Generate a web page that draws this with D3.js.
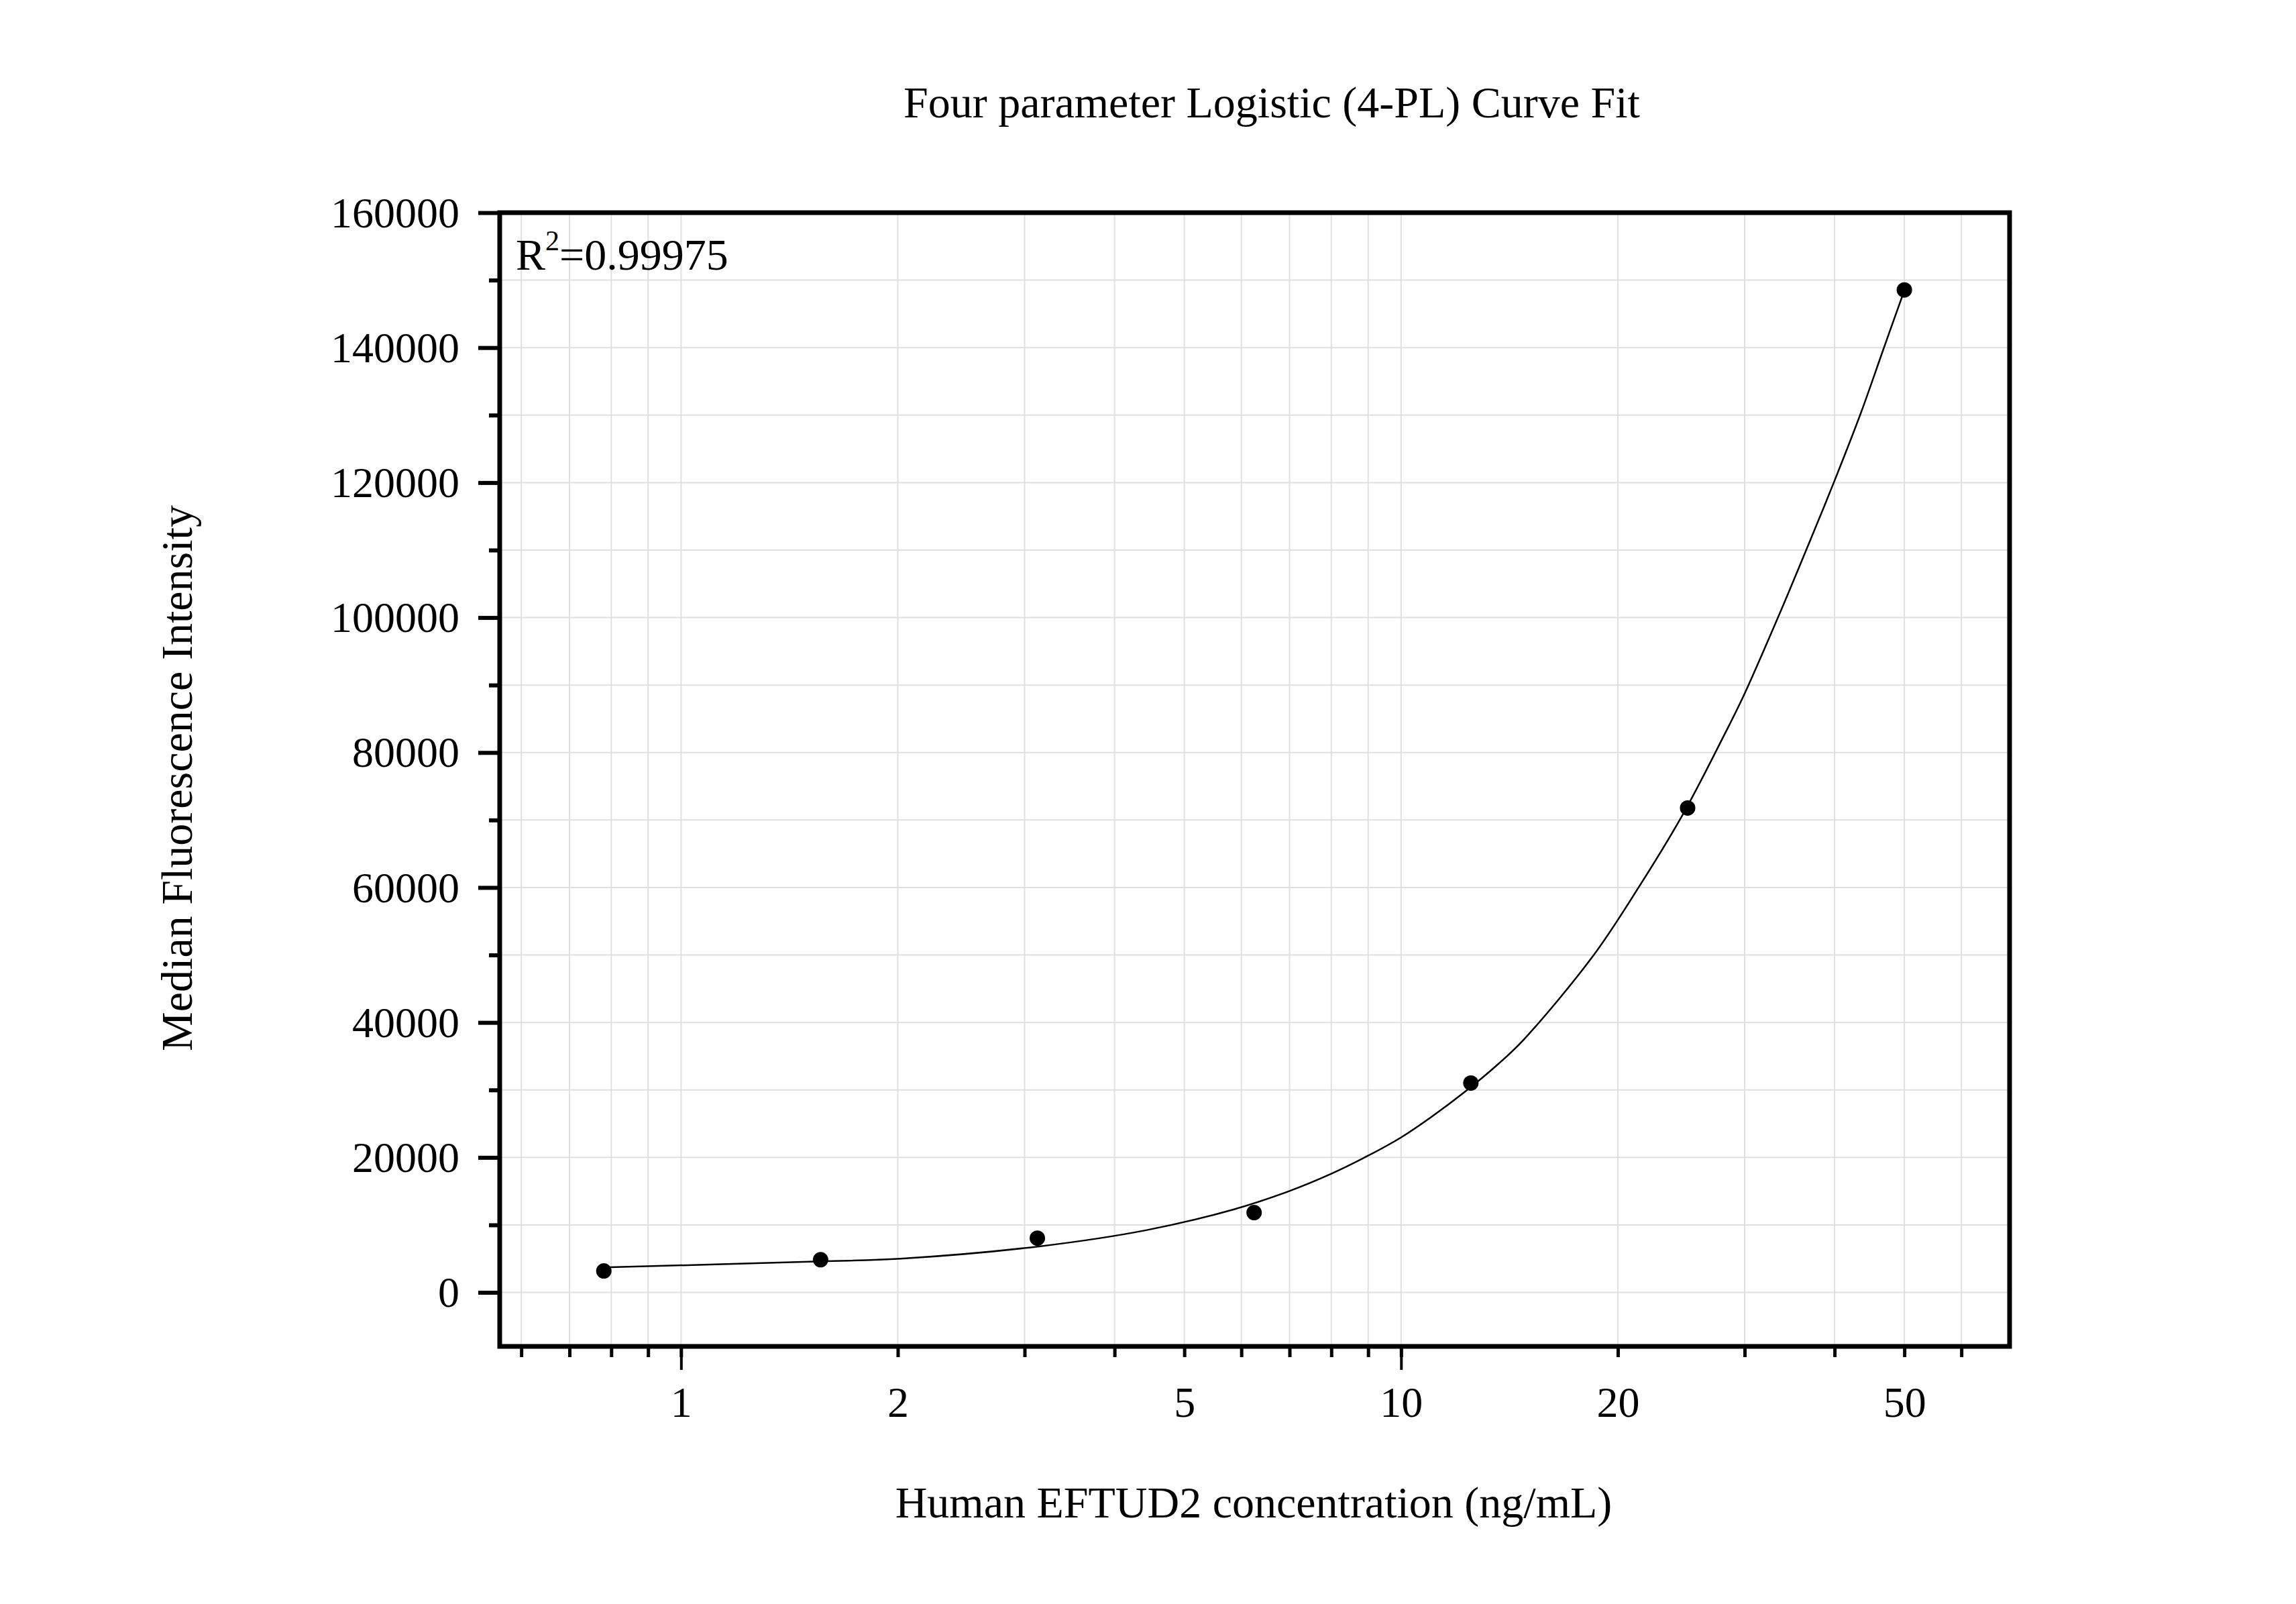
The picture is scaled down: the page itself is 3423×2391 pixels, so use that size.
<!DOCTYPE html>
<html>
<head>
<meta charset="utf-8">
<script src="https://cdn.jsdelivr.net/npm/d3@7"></script>
<style>
    body { margin: 0; background: #fff; }
    text { font-family: "Liberation Serif", "Times New Roman", serif; fill: #000; }
</style>
</head>
<body>
<div id="chart"></div>
<script>
// measured points (concentration ng/mL, MFI)
var concentrations = [0.78125, 1.5625, 3.125, 6.25, 12.5, 25, 50];
var mfiValues = [3180, 4840, 8040, 11820, 31030, 71780, 148550];

// fitted 4-PL curve
var curveX = [0.78125, 1.5625, 2.018, 3.144, 4.434, 5.86, 7.0, 8.0, 9.0, 10.0, 11.0, 12.33, 13.63,
    14.8, 18.43, 21.37, 24.62, 27.99, 29.9, 33.55, 37.09, 40.0, 43.5, 46.63, 49.62, 50];
var curveY = [3700, 4600, 5000, 6820, 9235, 12310, 15030, 17580, 20260, 22970, 25950, 29920, 33800,
    37450, 49700, 60000, 70820, 82220, 88400, 100570, 111720, 120300, 130300, 139400, 147500, 148400];

var xMinorTicks = [0.6, 0.7, 0.8, 0.9, 1, 2, 3, 4, 5, 6, 7, 8, 9, 10, 20, 30, 40, 50, 60];
var xDecadeTicks = [1, 10];
var xLabelTicks = [1, 2, 5, 10, 20, 50];
var yMajorTicks = [0, 20000, 40000, 60000, 80000, 100000, 120000, 140000, 160000];
var yMinorTicks = [10000, 30000, 50000, 70000, 90000, 110000, 130000, 150000];
var yGridTicks = [0, 10000, 20000, 30000, 40000, 50000, 60000, 70000, 80000, 90000, 100000,
    110000, 120000, 130000, 140000, 150000];

var chartTitle = "Four parameter Logistic (4-PL) Curve Fit";
var xTitle = "Human EFTUD2 concentration (ng/mL)";
var yTitle = "Median Fluorescence Intensity";

var width = 3423, height = 2391;
var plotLeft = 745, plotRight = 2996, plotTop = 317, plotBottom = 2007;

var svg = d3.select("#chart").append("svg")
    .attr("width", width)
    .attr("height", height);

svg.append("rect").attr("width", width).attr("height", height).attr("fill", "#fff");

var xScale = d3.scaleLog().domain([0.56, 70]).range([plotLeft, plotRight]);
var yScale = d3.scaleLinear().domain([-8000, 160000]).range([plotBottom, plotTop]);

// grid lines
svg.append("g").selectAll("line").data(xMinorTicks).enter()
    .append("line")
    .attr("x1", function (d) { return xScale(d); })
    .attr("x2", function (d) { return xScale(d); })
    .attr("y1", plotTop)
    .attr("y2", plotBottom)
    .attr("stroke", "#e0e0e0")
    .attr("stroke-width", 2);

svg.append("g").selectAll("line").data(yGridTicks).enter()
    .append("line")
    .attr("x1", plotLeft)
    .attr("x2", plotRight)
    .attr("y1", function (d) { return yScale(d); })
    .attr("y2", function (d) { return yScale(d); })
    .attr("stroke", "#e0e0e0")
    .attr("stroke-width", 2);

// axes ticks
function styleTicks(g, w) {
    g.select(".domain").remove();
    g.selectAll(".tick line").attr("stroke", "#000").attr("stroke-width", w);
}

svg.append("g")
    .attr("transform", "translate(" + plotLeft + ",0)")
    .call(d3.axisLeft(yScale).tickValues(yMinorTicks).tickSize(16).tickFormat(""))
    .call(styleTicks, 6);

var yAxisMajor = svg.append("g")
    .attr("transform", "translate(" + plotLeft + ",0)")
    .call(d3.axisLeft(yScale).tickValues(yMajorTicks).tickSize(32).tickPadding(28).tickFormat(d3.format("d")))
    .call(styleTicks, 6);
yAxisMajor.selectAll("text")
    .attr("font-family", "Liberation Serif")
    .attr("font-size", 64)
    .attr("dy", "0.33em");

svg.append("g")
    .attr("transform", "translate(0," + plotBottom + ")")
    .call(d3.axisBottom(xScale).tickValues(xMinorTicks).tickSize(16).tickFormat(""))
    .call(styleTicks, 5);

svg.append("g")
    .attr("transform", "translate(0," + plotBottom + ")")
    .call(d3.axisBottom(xScale).tickValues(xDecadeTicks).tickSize(35).tickFormat(""))
    .call(styleTicks, 4);

var xAxisLabels = svg.append("g")
    .attr("transform", "translate(0," + plotBottom + ")")
    .call(d3.axisBottom(xScale).tickValues(xLabelTicks).tickSize(0).tickFormat(d3.format("d")))
    .call(styleTicks, 0);
xAxisLabels.selectAll("text")
    .attr("font-family", "Liberation Serif")
    .attr("font-size", 64)
    .attr("y", 105)
    .attr("dy", 0);

// frame
svg.append("rect")
    .attr("x", plotLeft)
    .attr("y", plotTop)
    .attr("width", plotRight - plotLeft)
    .attr("height", plotBottom - plotTop)
    .attr("fill", "none")
    .attr("stroke", "#000")
    .attr("stroke-width", 7);

// fitted curve
var curveData = curveX.map(function (d, i) {
    return { x: d, y: curveY[i] };
});

svg.append("path")
    .datum(curveData)
    .attr("fill", "none")
    .attr("stroke", "#000")
    .attr("stroke-width", 2.5)
    .attr("d", d3.line()
        .curve(d3.curveCatmullRom.alpha(0.5))
        .x(function (d) { return xScale(d.x); })
        .y(function (d) { return yScale(d.y); }));

// points
svg.append("g").selectAll("circle").data(concentrations).enter()
    .append("circle")
    .attr("cx", function (d) { return xScale(d); })
    .attr("cy", function (d, i) { return yScale(mfiValues[i]); })
    .attr("r", 11.5)
    .attr("fill", "#000");

// texts
svg.append("text")
    .attr("x", 1896)
    .attr("y", 175)
    .attr("text-anchor", "middle")
    .attr("font-size", 66)
    .text(chartTitle);

svg.append("text")
    .attr("x", 1869)
    .attr("y", 2262)
    .attr("text-anchor", "middle")
    .attr("font-size", 66)
    .text(xTitle);

svg.append("text")
    .attr("transform", "translate(286,1160) rotate(-90)")
    .attr("text-anchor", "middle")
    .attr("font-size", 66)
    .text(yTitle);

var r2 = svg.append("text")
    .attr("x", 769)
    .attr("y", 402)
    .attr("font-size", 66);
r2.append("tspan").text("R");
r2.append("tspan").attr("font-size", 42).attr("dy", -29).text("2");
r2.append("tspan").attr("dy", 29).text("=0.99975");
</script>
</body>
</html>
